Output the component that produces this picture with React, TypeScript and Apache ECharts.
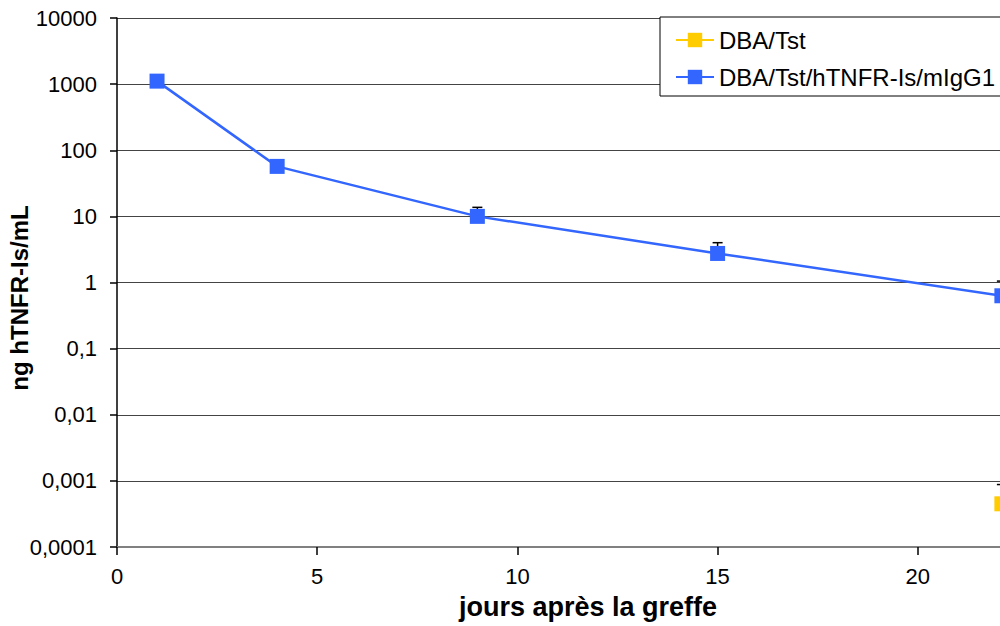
import React, { useEffect, useRef } from "react";
import * as echarts from "echarts";

const seriesNames = ["DBA/Tst", "DBA/Tst/hTNFR-Is/mIgG1"];
const seriesColors = ["#FFCC00", "#3366FF"];

const tstDays = [22.1];
const tstValues = [0.00045];
const tstErrUpper = [0.00088];

const hDays = [1, 4, 9, 15, 22.1];
const hValues = [1110, 57, 10, 2.75, 0.63];
const hErrUpper = [null, null, 13.7, 4.0, 1.05];

const xTitle = "jours après la greffe";
const yTitle = "ng hTNFR-Is/mL";

const FONT = "'Liberation Sans', Arial, sans-serif";

export default function App() {
  const ref = useRef<HTMLDivElement>(null);
  useEffect(() => {
    if (!ref.current) return;
    const chart = echarts.init(ref.current, undefined, { renderer: "svg" });

    const errData: any[] = [];
    tstDays.forEach((d, i) => {
      if (tstErrUpper[i] != null) errData.push([d, tstValues[i], tstErrUpper[i]]);
    });
    hDays.forEach((d, i) => {
      if (hErrUpper[i] != null) errData.push([d, hValues[i], hErrUpper[i]]);
    });

    const fmt = (v: number) => {
      const s = Number(v.toPrecision(1)).toString();
      return s.replace(".", ",");
    };

    chart.setOption({
      animation: false,
      backgroundColor: "#ffffff",
      textStyle: { fontFamily: FONT },
      grid: { left: 117, top: 18, bottom: 79, right: 12, containLabel: false },
      legend: {
        data: seriesNames,
        orient: "vertical",
        left: 660,
        top: 17,
        padding: [10, 300, 6, 15],
        borderColor: "#000",
        borderWidth: 1,
        backgroundColor: "#fff",
        itemWidth: 38,
        itemHeight: 18,
        itemGap: 11,
        textStyle: { fontSize: 24, color: "#000", fontFamily: FONT, lineHeight: 26 },
      },
      xAxis: {
        type: "value",
        min: 0,
        max: 25,
        interval: 5,
        axisLine: { show: true, lineStyle: { color: "#808080", width: 2 } },
        axisTick: { show: true, length: 8, lineStyle: { color: "#000", width: 1.5 } },
        axisLabel: { fontSize: 22, color: "#000", margin: 18, fontFamily: FONT, showMaxLabel: false },
        splitLine: { show: false },
      },
      yAxis: {
        type: "log",
        logBase: 10,
        min: 0.0001,
        max: 10000,
        interval: 1,
        axisLine: { show: true, onZero: false, lineStyle: { color: "#000", width: 1.5 } },
        axisTick: { show: true, length: 7, lineStyle: { color: "#000", width: 1.5 } },
        axisLabel: { fontSize: 22, color: "#000", margin: 20, formatter: fmt, fontFamily: FONT },
        splitLine: { show: true, lineStyle: { color: "#444", width: 1 } },
        minorTick: { show: false },
      },
      graphic: [
        {
          type: "text",
          x: 588,
          y: 607,
          style: {
            text: xTitle,
            font: `bold 27px ${FONT}`,
            fill: "#000",
            align: "center",
            verticalAlign: "middle",
          },
        },
        {
          type: "text",
          x: 19,
          y: 298,
          rotation: Math.PI / 2,
          style: {
            text: yTitle,
            font: `bold 24px ${FONT}`,
            fill: "#000",
            align: "center",
            verticalAlign: "middle",
          },
        },
      ],
      series: [
        {
          type: "custom",
          name: "err",
          z: 1,
          silent: true,
          data: errData,
          renderItem: (params: any, api: any) => {
            const x = api.value(0);
            const p0 = api.coord([x, api.value(1)]);
            const p1 = api.coord([x, api.value(2)]);
            const hw = 5;
            return {
              type: "group",
              children: [
                {
                  type: "line",
                  shape: { x1: p0[0], y1: p0[1], x2: p1[0], y2: p1[1] },
                  style: { stroke: "#000", lineWidth: 1.5 },
                },
                {
                  type: "line",
                  shape: { x1: p1[0] - hw, y1: p1[1], x2: p1[0] + hw, y2: p1[1] },
                  style: { stroke: "#000", lineWidth: 1.5 },
                },
              ],
            };
          },
        },
        {
          type: "line",
          name: seriesNames[0],
          z: 3,
          data: tstDays.map((d, i) => [d, tstValues[i]]),
          symbol: "rect",
          symbolSize: 15,
          showAllSymbol: true,
          itemStyle: { color: seriesColors[0] },
          lineStyle: { color: seriesColors[0], width: 2.5 },
        },
        {
          type: "line",
          name: seriesNames[1],
          z: 3,
          data: hDays.map((d, i) => [d, hValues[i]]),
          symbol: "rect",
          symbolSize: 15,
          showAllSymbol: true,
          itemStyle: { color: seriesColors[1] },
          lineStyle: { color: seriesColors[1], width: 2.5 },
        },
      ],
    });
    return () => chart.dispose();
  }, []);

  return (
    <div style={{ position: "fixed", left: 0, top: 0, width: 1000, height: 626, overflow: "hidden", background: "#fff" }}>
      <div ref={ref} style={{ width: 1130, height: 626 }} />
    </div>
  );
}
